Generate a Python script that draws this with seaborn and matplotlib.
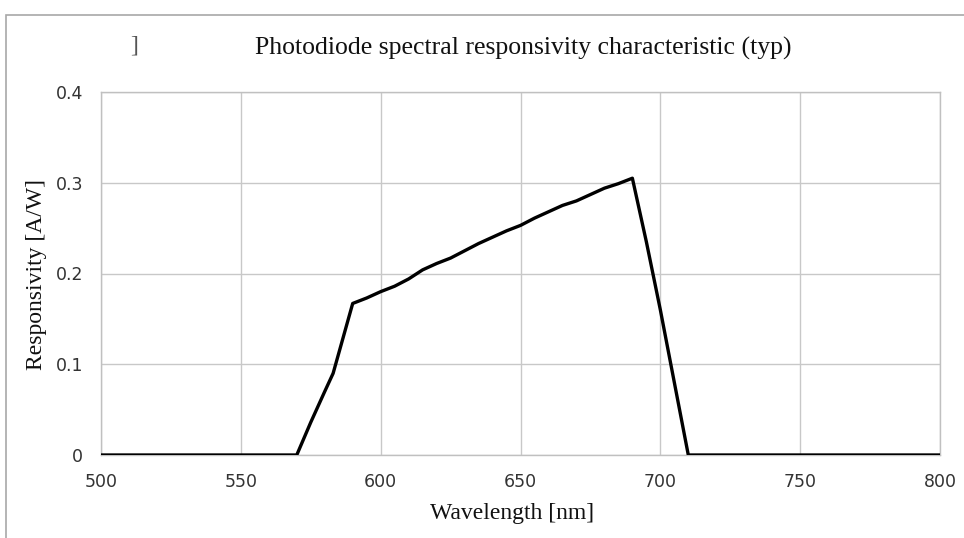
import matplotlib
matplotlib.use("Agg")
import matplotlib.pyplot as plt
import seaborn as sns
import pandas as pd
from matplotlib.patches import Rectangle

wavelength = [500, 570, 575, 580, 583, 590, 595, 600, 605, 610, 615, 620,
              625, 630, 635, 640, 645, 650, 655, 660, 665, 670, 675, 680, 685,
              690, 695, 700, 705, 710, 800]
responsivity = [0, 0, 0.036, 0.070, 0.090, 0.167, 0.173, 0.180, 0.186,
                0.194, 0.204, 0.211, 0.217, 0.225, 0.233, 0.240, 0.247, 0.253,
                0.261, 0.268, 0.275, 0.280, 0.287, 0.294, 0.299, 0.305, 0.235,
                0.160, 0.080, 0, 0]
x_ticks = [500, 550, 600, 650, 700, 750, 800]
y_ticks = [0, 0.1, 0.2, 0.3, 0.4]
y_tick_labels = ["0", "0.1", "0.2", "0.3", "0.4"]
title = "Photodiode spectral responsivity characteristic (typ)"
x_label = "Wavelength [nm]"
y_label = "Responsivity [A/W]"

sns.set_style("whitegrid")
plt.rcParams["font.family"] = ["DejaVu Sans"]

df = pd.DataFrame({"wl": wavelength, "r": responsivity})

fig = plt.figure(figsize=(9.64, 5.38), dpi=100)
ax = fig.add_axes([101 / 964, 1 - 455 / 538, (940 - 101) / 964, (455 - 92) / 538])

sns.lineplot(data=df, x="wl", y="r", ax=ax, color="black", linewidth=2.4, zorder=5)

ax.set_xlim(500, 800)
ax.set_ylim(0, 0.4)
ax.set_xticks(x_ticks)
ax.set_yticks(y_ticks)
ax.set_yticklabels(y_tick_labels)
ax.grid(True, color="#c8c8c8", linewidth=1.0)
for s in ax.spines.values():
    s.set_color("#c0c0c0")
    s.set_linewidth(1.0)
ax.tick_params(axis="both", length=0, labelsize=12.5, colors="#333333")
ax.tick_params(axis="x", pad=13)
ax.tick_params(axis="y", pad=13)
ax.set_xlabel("")
ax.set_ylabel("")

serif = ["Liberation Serif", "DejaVu Serif"]
fig.text(523 / 964, 1 - 48 / 538, title, ha="center", va="center",
         family=serif, fontsize=18.5, color="#111111")
fig.text(512 / 964, 1 - 513 / 538, x_label, ha="center", va="center",
         family=serif, fontsize=17, color="#111111")
fig.text(37 / 964, 1 - 275 / 538, y_label, ha="center", va="center",
         rotation=90, family=serif, fontsize=17, color="#111111")
fig.text(134 / 964, 1 - 46 / 538, "]", ha="center", va="center",
         family=serif, fontsize=17, color="#555555")

fig.patches.append(Rectangle((6 / 964, -0.1), 1.2, 0.1 + (538 - 15) / 538,
                             transform=fig.transFigure, fill=False,
                             edgecolor="#a8a8a8", linewidth=1.2))

fig.savefig("out.png", dpi=100)
